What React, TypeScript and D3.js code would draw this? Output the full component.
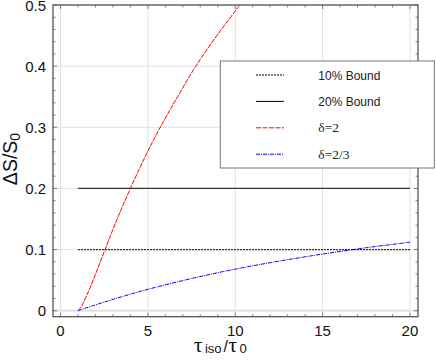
import * as d3 from "d3";

const W = 436;
const H = 362;

const xTicks = [0, 5, 10, 15, 20];
const yTicks = [0, 0.1, 0.2, 0.3, 0.4, 0.5];
const boundX = [1, 20];
const bound10 = [0.1, 0.1];
const bound20 = [0.2, 0.2];
const redX = [1, 1.2, 1.45, 1.7, 2.1, 2.55, 3.2, 4, 5, 5.9, 6.6, 7.7, 9, 10.27];
const redY = [0, 0.007, 0.022, 0.038, 0.067, 0.1, 0.147, 0.2, 0.261, 0.31, 0.345, 0.398, 0.452, 0.5];
const blueX = [1, 2, 3, 4, 5, 7.4, 10, 12.5, 15, 17.5, 20];
const blueY = [0, 0.0095, 0.0185, 0.027, 0.035, 0.052, 0.068, 0.081, 0.0926, 0.103, 0.112];

const legendItems = [
  { label: "10% Bound", color: "#000", dash: "2,1", serif: false },
  { label: "20% Bound", color: "#000", dash: "", serif: false },
  { label: "δ=2", color: "#ff0000", dash: "5,1.5", serif: true },
  { label: "δ=2/3", color: "#0000ff", dash: "4,1,1,1", serif: true },
];

const sans = "'Liberation Sans', Arial, sans-serif";
const serif = "'Liberation Serif', 'Times New Roman', serif";

export default function App() {
  const left = 53, right = 418, top = 5, bottom = 316.7;
  const x = d3.scaleLinear().domain([-0.43, 20.46]).range([left, right]);
  const y = d3.scaleLinear().domain([-0.0098, 0.5]).range([bottom, top]);

  const line = d3
    .line<[number, number]>()
    .x(d => x(d[0]))
    .y(d => y(d[1]))
    .curve(d3.curveCatmullRom);

  const zip = (a: number[], b: number[]) => a.map((v, i) => [v, b[i]] as [number, number]);

  const xMinor = d3.range(0, 21, 1);
  const yMinor = d3.range(0, 0.501, 0.02);

  return (
    <svg width={W} height={H} style={{ position: "absolute", left: 0, top: 0 }}>
      <rect width={W} height={H} fill="#fff" />
      {/* grid */}
      {xTicks.map(t => (
        <line key={"gx" + t} x1={x(t)} x2={x(t)} y1={top} y2={bottom} stroke="#e2e2e2" strokeWidth={1} />
      ))}
      {yTicks.map(t => (
        <line key={"gy" + t} x1={left} x2={right} y1={y(t)} y2={y(t)} stroke="#e2e2e2" strokeWidth={t === 0 ? 2 : 1} />
      ))}
      {/* minor ticks */}
      {xMinor.map(t => (
        <g key={"mx" + t} stroke="#666" strokeWidth={0.8}>
          <line x1={x(t)} x2={x(t)} y1={bottom} y2={bottom - (t % 5 === 0 ? 4 : 2.5)} />
          <line x1={x(t)} x2={x(t)} y1={top} y2={top + (t % 5 === 0 ? 4 : 2.5)} />
        </g>
      ))}
      {yMinor.map((t, i) => (
        <g key={"my" + i} stroke="#666" strokeWidth={0.8}>
          <line x1={left} x2={left + (i % 5 === 0 ? 4 : 2.5)} y1={y(t)} y2={y(t)} />
          <line x1={right} x2={right - (i % 5 === 0 ? 4 : 2.5)} y1={y(t)} y2={y(t)} />
        </g>
      ))}
      {/* series */}
      <path d={line(zip(boundX, bound10)) || ""} fill="none" stroke="#333" strokeWidth={1.3} strokeDasharray="2,1" />
      <path d={line(zip(boundX, bound20)) || ""} fill="none" stroke="#333" strokeWidth={1.3} />
      <path d={line(zip(redX, redY)) || ""} fill="none" stroke="#ff0000" strokeWidth={1} strokeDasharray="5,1" />
      <path d={line(zip(blueX, blueY)) || ""} fill="none" stroke="#0000ff" strokeWidth={1} strokeDasharray="4,1,1,1" />
      {/* frame */}
      <rect x={left} y={top} width={right - left} height={bottom - top} fill="none" stroke="#555" strokeWidth={1.3} />
      {/* tick labels */}
      {xTicks.map(t => (
        <text key={"tx" + t} x={x(t)} y={336} textAnchor="middle" fontFamily={sans} fontSize={15} fill="#111">
          {t}
        </text>
      ))}
      {yTicks.map(t => (
        <text key={"ty" + t} x={46} y={y(t) + 5.5} textAnchor="end" fontFamily={sans} fontSize={15} fill="#111">
          {t === 0 ? "0" : d3.format(".1f")(t)}
        </text>
      ))}
      {/* axis labels */}
      <text x={194} y={351.5} fill="#111">
        <tspan fontFamily={serif} fontSize={21}>τ</tspan>
        <tspan fontFamily={sans} fontSize={13} dx={2.5} dy={1}>iso</tspan>
        <tspan fontFamily={sans} fontSize={16} dx={2} dy={-1}>/</tspan>
        <tspan fontFamily={serif} fontSize={21} dx={0.5}>τ</tspan>
        <tspan fontFamily={sans} fontSize={13} dx={2.5} dy={1.5}>0</tspan>
      </text>
      <text transform="translate(16.5,159) rotate(-90)" textAnchor="middle" fontFamily={sans} fill="#111" fontSize={19.5}>
        <tspan>ΔS/S</tspan>
        <tspan fontSize={14} dy={3}>0</tspan>
      </text>
      {/* legend */}
      <rect x={220.3} y={61} width={214} height={107} fill="#fff" stroke="#777" strokeWidth={1} />
      {legendItems.map((d, i) => {
        const ly = 75 + i * 26.4;
        return (
          <g key={d.label}>
            <line x1={256} x2={284} y1={ly} y2={ly} stroke={d.color} strokeWidth={1} strokeDasharray={d.dash} />
            <text x={318.3} y={ly + 4.5} fontFamily={d.serif ? serif : sans} fontSize={d.serif ? 13.5 : 12} fill="#222">
              {d.label}
            </text>
          </g>
        );
      })}
    </svg>
  );
}
